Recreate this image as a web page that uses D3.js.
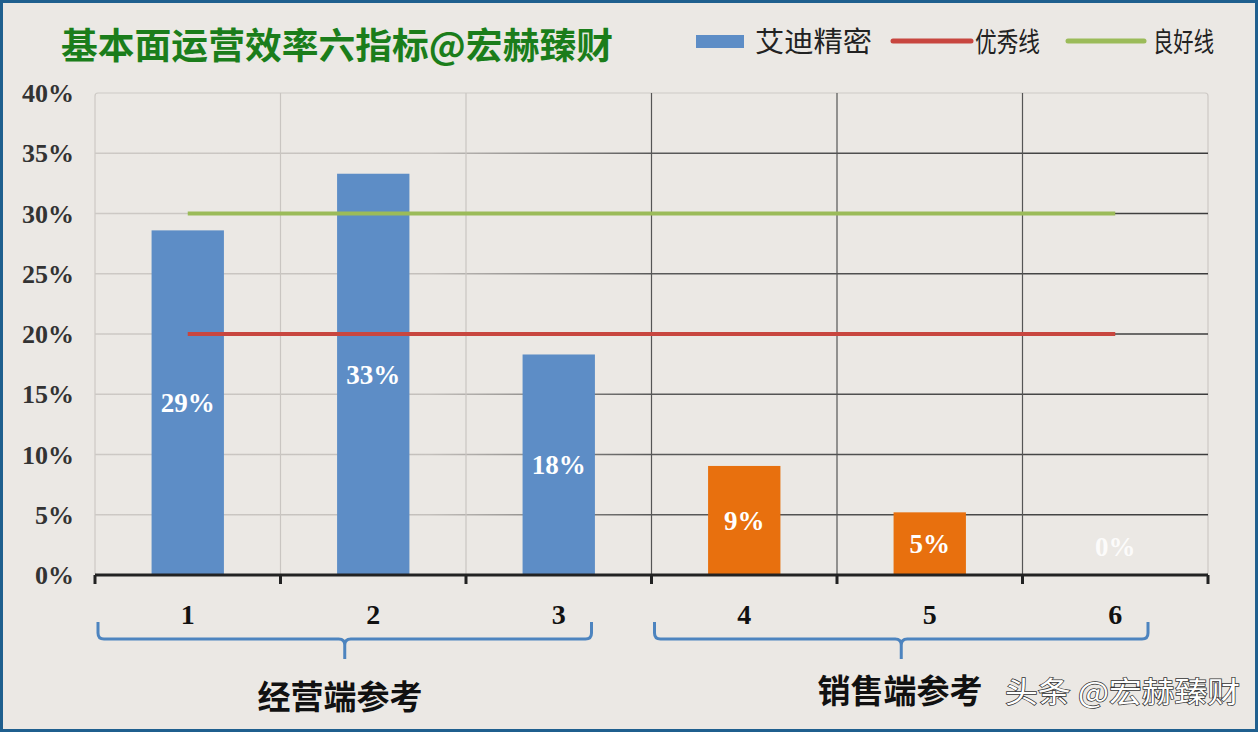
<!DOCTYPE html>
<html><head><meta charset="utf-8">
<script src="https://cdn.jsdelivr.net/npm/d3@7"></script>
<style>
html,body{margin:0;padding:0;background:#ebe8e4;}
svg{display:block;}
</style></head>
<body>
<svg id="c" width="1258" height="732"></svg>
<script>
const categories = ["1","2","3","4","5","6"];
const values = [0.286, 0.333, 0.183, 0.0905, 0.052, 0];
const valueLabels = ["29%","33%","18%","9%","5%","0%"];
const excellentLine = [0.20,0.20,0.20,0.20,0.20,0.20];
const goodLine = [0.30,0.30,0.30,0.30,0.30,0.30];
const yTicks = [0,0.05,0.10,0.15,0.20,0.25,0.30,0.35,0.40];
const groups = [{name:"经营端参考", from:"1", to:"3"},{name:"销售端参考", from:"4", to:"6"}];
const seriesNames = ["艾迪精密","优秀线","良好线"];
const title = "基本面运营效率六指标@宏赫臻财";
const watermark = "头条 @宏赫臻财";

const svg = d3.select("#c");
const W = 1258, H = 732;
const L = 95, R = 1208, T = 93, B = 575;
const blue = "#5d8dc6", orange = "#e8700e", red = "#c8463f", green = "#9bbb59";

svg.append("rect").attr("x",0).attr("y",0).attr("width",W).attr("height",H).attr("fill","#ebe8e4");
svg.append("rect").attr("x",1.5).attr("y",1.5).attr("width",W-3).attr("height",H-3)
  .attr("fill","none").attr("stroke","#1f5f8e").attr("stroke-width",3);

const x = d3.scaleBand().domain(categories).range([L,R]).paddingInner(0.61).paddingOuter(0.305);
const y = d3.scaleLinear().domain([0,0.40]).range([B,T]);
const step = x.step();
const cx = c => x(c) + x.bandwidth()/2;

const defs = svg.append("defs");
const g1 = defs.append("linearGradient").attr("id","gg").attr("gradientUnits","userSpaceOnUse")
  .attr("x1",L).attr("x2",R).attr("y1",0).attr("y2",0);
g1.append("stop").attr("offset","0%").attr("stop-color","#cdc9c5");
g1.append("stop").attr("offset","30%").attr("stop-color","#c4c0bc");
g1.append("stop").attr("offset","50%").attr("stop-color","#5a5a5a");
g1.append("stop").attr("offset","100%").attr("stop-color","#3c3c3c");

svg.append("rect").attr("x",L).attr("y",T).attr("width",R-L).attr("height",B-T).attr("rx",3)
  .attr("fill","none").attr("stroke","#cdc9c5").attr("stroke-width",1.2);

svg.append("g").selectAll("line").data(yTicks.filter(d=>d>0 && d<0.40)).join("line")
  .attr("x1",L).attr("x2",R).attr("y1",d=>y(d)).attr("y2",d=>y(d))
  .attr("stroke","url(#gg)").attr("stroke-width",1.3);
const bounds = categories.map(c=>x(c) - (step - x.bandwidth())/2).slice(1);
svg.append("g").selectAll("line").data(bounds).join("line")
  .attr("x1",d=>d).attr("x2",d=>d).attr("y1",T).attr("y2",B)
  .attr("stroke",(d,i)=> i<2 ? "#c9c5c1" : "#555").attr("stroke-width",1.2);

const yAxis = d3.axisLeft(y).tickValues(yTicks).tickFormat(d=>Math.round(d*100)+"%").tickSize(0).tickPadding(21);
const ya = svg.append("g").attr("transform",`translate(${L},0)`).call(yAxis);
ya.select(".domain").remove();
ya.selectAll("text").attr("font-family","Liberation Serif, serif").attr("font-size",26)
  .attr("fill","#333").attr("font-weight","bold").attr("dy","0.33em");

svg.append("g").selectAll("rect").data(values).join("rect")
  .attr("x",(d,i)=>x(categories[i])).attr("width",x.bandwidth())
  .attr("y",d=>y(d)).attr("height",d=>B-y(d))
  .attr("fill",(d,i)=> i<3 ? blue : orange);

const line = d3.line().x((d,i)=>cx(categories[i])).y(d=>y(d));
svg.append("path").datum(excellentLine).attr("d",line).attr("fill","none").attr("stroke",red).attr("stroke-width",4);
svg.append("path").datum(goodLine).attr("d",line).attr("fill","none").attr("stroke",green).attr("stroke-width",4);

svg.append("g").selectAll("text").data(values).join("text")
  .attr("x",(d,i)=>cx(categories[i]))
  .attr("y",d=>Math.min((y(d)+B)/2, B-28))
  .attr("dy","0.35em").attr("text-anchor","middle")
  .attr("font-family","Liberation Serif, serif").attr("font-weight","bold").attr("font-size",27)
  .attr("fill","#ffffff").attr("opacity",(d,i)=> values[i]===0 ? 0.85 : 1).text((d,i)=>valueLabels[i]);

const xa = svg.append("g");
xa.append("line").attr("x1",L).attr("x2",R).attr("y1",B).attr("y2",B).attr("stroke","#222").attr("stroke-width",3);
xa.selectAll("line.tk").data([L, ...bounds, R]).join("line").attr("class","tk")
  .attr("x1",d=>d).attr("x2",d=>d).attr("y1",B).attr("y2",B+9).attr("stroke","#222").attr("stroke-width",3);
xa.selectAll("text").data(categories).join("text")
  .attr("x",d=>cx(d)).attr("y",624).attr("text-anchor","middle")
  .attr("font-family","Liberation Serif, serif").attr("font-weight","bold").attr("font-size",28)
  .attr("fill","#111").text(d=>d);

groups.forEach(gr=>{
  const x0 = x(gr.from) - (step - x.bandwidth())/2 + 3;
  const x1 = x(gr.to) + x.bandwidth() + (step - x.bandwidth())/2 - 60;
  const m = (x0+x1)/2;
  const yt = 622, ym = 639, yb = 659, r = 6;
  const p = `M${x0},${yt} L${x0},${ym-r} Q${x0},${ym} ${x0+r},${ym} L${m-r},${ym} Q${m},${ym} ${m},${ym+r} L${m},${yb} M${m},${ym+r} Q${m},${ym} ${m+r},${ym} L${x1-r},${ym} Q${x1},${ym} ${x1},${ym-r} L${x1},${yt}`;
  svg.append("path").attr("d",p).attr("fill","none").attr("stroke","#4d84bf").attr("stroke-width",3);
});
svg.append("text").attr("x",340).attr("y",709).attr("text-anchor","middle")
  .attr("font-family","Noto Sans CJK SC").attr("font-weight","bold").attr("font-size",33)
  .attr("fill","#111").text(groups[0].name);
svg.append("text").attr("x",900).attr("y",703).attr("text-anchor","middle")
  .attr("font-family","Noto Sans CJK SC").attr("font-weight","bold").attr("font-size",33)
  .attr("fill","#111").text(groups[1].name);
svg.append("text").attr("x",1005).attr("y",703)
  .attr("font-family","Noto Sans CJK SC").attr("font-size",29)
  .attr("fill","#ffffff").attr("stroke","#333").attr("stroke-width",1.4).attr("paint-order","stroke")
  .attr("textLength",235).attr("lengthAdjust","spacingAndGlyphs").text(watermark);

svg.append("text").attr("x",61).attr("y",59)
  .attr("font-family","Noto Sans CJK SC").attr("font-weight","bold").attr("font-size",36)
  .attr("fill","#1b7d1b").attr("stroke","#e8f2e0").attr("stroke-width",0.6).attr("paint-order","stroke")
  .attr("textLength",552).attr("lengthAdjust","spacingAndGlyphs").text(title);

const lg = svg.append("g");
lg.append("rect").attr("x",696).attr("y",35).attr("width",48).attr("height",13).attr("fill",blue);
lg.append("text").attr("x",755).attr("y",52).attr("font-family","Noto Sans CJK SC").attr("font-size",28).attr("fill","#222")
  .attr("textLength",117).attr("lengthAdjust","spacingAndGlyphs").text(seriesNames[0]);
lg.append("line").attr("x1",893).attr("x2",971).attr("y1",41).attr("y2",41).attr("stroke",red).attr("stroke-width",5).attr("stroke-linecap","round");
lg.append("text").attr("x",975).attr("y",52).attr("font-family","Noto Sans CJK SC").attr("font-size",27).attr("fill","#222")
  .attr("textLength",65).attr("lengthAdjust","spacingAndGlyphs").text(seriesNames[1]);
lg.append("line").attr("x1",1068).attr("x2",1144).attr("y1",41).attr("y2",41).attr("stroke",green).attr("stroke-width",5).attr("stroke-linecap","round");
lg.append("text").attr("x",1153).attr("y",52).attr("font-family","Noto Sans CJK SC").attr("font-size",27).attr("fill","#222")
  .attr("textLength",61).attr("lengthAdjust","spacingAndGlyphs").text(seriesNames[2]);
</script>
</body></html>
